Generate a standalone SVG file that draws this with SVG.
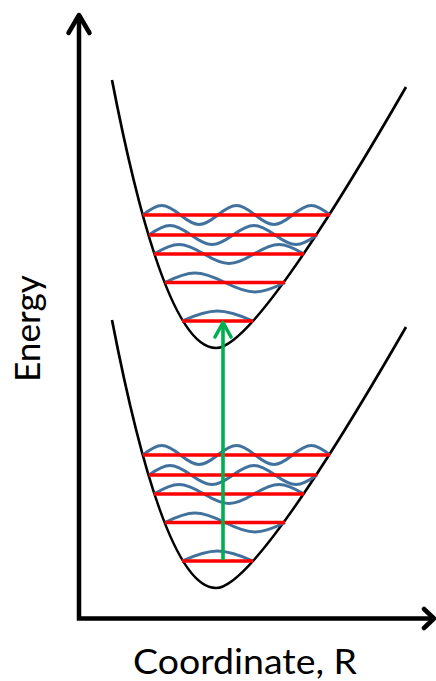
<svg xmlns="http://www.w3.org/2000/svg" width="436" height="681" viewBox="0 0 436 681">
  <defs>
    <style>
      .axis { fill: none; stroke: #000; stroke-width: 4.5; stroke-linejoin: miter; }
      .head { fill: none; stroke: #000; stroke-width: 4.5; stroke-linecap: round; stroke-linejoin: round; }
      .pes { fill: none; stroke: #000; stroke-width: 2.7; }
      .wave { fill: none; stroke: #41719C; stroke-width: 3; }
      .lvl { fill: none; stroke: #FF0000; stroke-width: 3.5; }
      .exc { fill: none; stroke: #00B050; stroke-width: 3.6; stroke-linecap: round; stroke-linejoin: round; }
      .lbl { font-family: Lato, "Open Sans", "Liberation Sans", sans-serif; font-size: 34px; fill: #000; }
    </style>
    <g id="well">
      <path class="pes" d="M112,80 Q164,348 216,348 Q255.7,348 406,87"/>
      <g class="waves">
        <path class="wave" d="M143,215 C158.87,202.33 164.53,202.33 180.4,215 S201.93,227.67 217.8,215 S239.33,202.33 255.2,215 S276.73,227.67 292.6,215 S314.13,202.33 330,215"/>
        <path class="wave" d="M149,235 C166.82,222.33 173.18,222.33 191,235 S215.18,247.67 233,235 S257.18,222.33 275,235 S299.18,247.67 317,235"/>
        <path class="wave" d="M154,254 C175.22,241.33 182.78,241.33 204,254 S232.78,266.67 254,254 S282.78,241.33 304,254"/>
        <path class="wave" d="M165,282.5 C190.46,269.83 199.54,269.83 225,282.5 S259.54,295.17 285,282.5"/>
        <path class="wave" d="M182,321 C212.13,307.67 222.87,307.67 253,321"/>
      </g>
      <g class="levels">
        <line class="lvl" x1="143" y1="215" x2="330" y2="215"/>
        <line class="lvl" x1="149" y1="235" x2="317" y2="235"/>
        <line class="lvl" x1="154" y1="254" x2="304" y2="254"/>
        <line class="lvl" x1="165" y1="282.5" x2="285" y2="282.5"/>
        <line class="lvl" x1="182" y1="321" x2="253" y2="321"/>
      </g>
    </g>
  </defs>

  <g id="axes">
    <path class="axis" d="M79,16 V618.5 H433"/>
    <polyline class="head" points="68.5,33 79,15 89.5,33"/>
    <polyline class="head" points="424,609 434,618.5 424,628"/>
  </g>

  <g id="excited-state">
    <use href="#well"/>
  </g>

  <g id="ground-state">
    <use href="#well" transform="translate(0,240)"/>
  </g>

  <g id="connectors">
    <line class="exc" x1="223" y1="560" x2="223" y2="324" style="stroke-linecap:butt"/>
    <polyline class="exc" points="215,337 223,322.5 231,337"/>
  </g>

  <g id="labels">
    <text class="lbl" x="245" y="674" text-anchor="middle" textLength="224" lengthAdjust="spacingAndGlyphs">Coordinate, R</text>
    <text class="lbl" transform="translate(40,382) rotate(-90)" x="0" y="0" textLength="107" lengthAdjust="spacingAndGlyphs">Energy</text>
  </g>
</svg>
